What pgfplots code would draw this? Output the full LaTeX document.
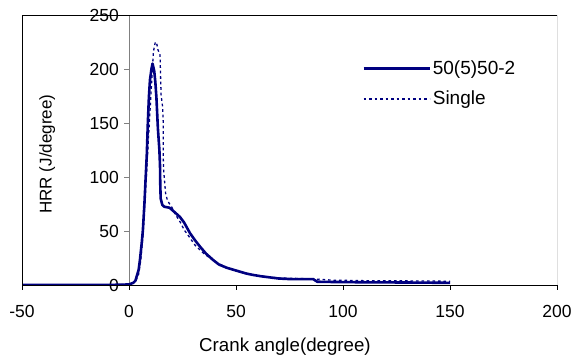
\documentclass[border=0pt]{standalone}
\usepackage{fontspec}
\setmainfont{Liberation Sans}
\usepackage{pgfplots}
\pgfplotsset{compat=1.18}
\definecolor{navy}{RGB}{0,0,128}
\begin{document}
\fontsize{18}{21}\selectfont
\begin{tikzpicture}
\begin{axis}[
 scale only axis, width=535pt, height=270pt,
 xmin=-50, xmax=200, ymin=0, ymax=250,
 axis x line=bottom, axis y line=middle,
 axis line style={-},
 x axis line style={draw=black, line width=0.8pt},
 y axis line style={draw=gray, line width=0.8pt},
 hide obscured x ticks=false, hide obscured y ticks=false,
 xtick={-50,0,50,100,150,200}, ytick={0,50,100,150,200,250},
 tick align=outside, major tick length=5pt,
 xtick style={draw=black},
 ytick style={draw=gray},
 /pgf/number format/assume math mode=true,
 ticklabel style={font=\fontsize{17.5}{20}\selectfont},
 xticklabel style={yshift=-9pt},
 yticklabel style={xshift=1pt},
 every axis y label/.style={at={(rel axis cs:0.047,0.485)}, anchor=center, rotate=90},
 every axis x label/.style={at={(rel axis cs:0.4916,0)}, anchor=center, yshift=-62pt},
 xlabel={Crank angle(degree)},
 ylabel={HRR (J/degree)},
 xlabel style={font=\fontsize{18.7}{21}\selectfont},
 ylabel style={font=\fontsize{17}{20}\selectfont},
 legend style={at={(rel axis cs:0.63,0.848)}, anchor=north west, draw=none, fill=none,
   font=\fontsize{19}{22}\selectfont, row sep=10pt},
 legend cell align=left,
 legend image code/.code={\draw[#1] (0pt,0pt) -- (66pt,0pt);},
]
\addplot[navy, line width=2.6pt, line join=round] coordinates {
(-50,0) (-10,0) (0,0.5) (2,2) (3,4) (3.6,8) (4.5,14) (5.1,23) (6,40) (6.5,51)
(7.2,75) (7.8,100) (8.3,120) (8.8,150) (9.3,174) (9.8,190) (10.5,200) (11,205)
(11.8,198) (12.3,188) (12.8,174) (13.5,145) (14.2,125) (14.5,110) (14.6,94)
(14.8,80) (15.6,74) (16.5,72.5) (19,71.5) (21,68) (23.8,63) (25.7,58) (28.5,48)
(31,41) (33.2,35.5) (36,29) (39.4,23) (42,19) (45.6,16) (49,14) (51.9,12.3)
(55,10.5) (58,9.3) (62,8) (66,7) (70,6) (75,5.5) (80,5.5) (86,5.5) (88,3)
(95,2.8) (110,2.5) (130,2.3) (150,2)
};
\addlegendentry{50(5)50-2}
\addplot[navy, line width=1.3pt, dash pattern=on 2.7pt off 2.8pt] coordinates {
(-50,0) (-10,0) (0,0.5) (3,3) (4.5,10) (5.5,23) (6.5,45) (7.5,80) (8.5,115)
(9.5,150) (10.5,185) (11.4,216) (12.3,225) (12.9,224) (13.5,218) (14.5,213)
(14.8,190) (15,176) (15.7,165) (16,150) (16,119) (16.2,106) (17.1,85) (18,78)
(20,72) (21.5,66) (24,58) (25.8,51) (28,45) (30.8,37) (35,29) (40,22) (45,16.5)
(50,13) (55,10.5) (60,8.5) (70,6.5) (80,6) (87,5.5) (95,4.5) (110,4) (130,3.8)
(150,3.5)
};
\addlegendentry{Single}
\draw[black, line width=0.8pt] (rel axis cs:0,0) rectangle (rel axis cs:1,1);
\coordinate (bl) at (rel axis cs:0,0);
\coordinate (tr) at (rel axis cs:1,1);
\end{axis}
\pgfresetboundingbox
\path ([xshift=-22pt,yshift=-75pt]bl) rectangle ([xshift=18pt,yshift=15pt]tr);
\end{tikzpicture}
\end{document}
